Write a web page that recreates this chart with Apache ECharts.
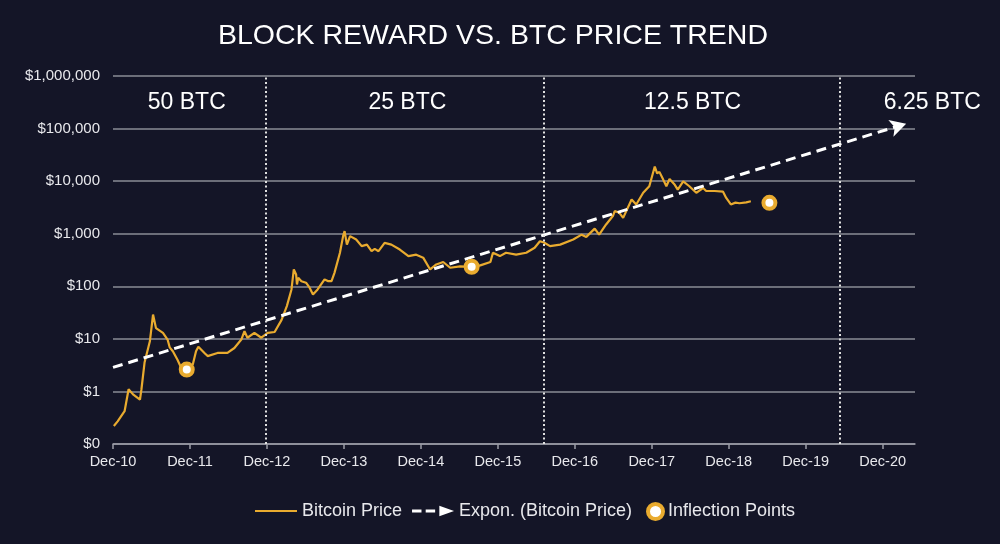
<!DOCTYPE html>
<html>
<head>
<meta charset="utf-8">
<script src="https://cdn.jsdelivr.net/npm/echarts@6/dist/echarts.min.js"></script>
<style>html,body{margin:0;padding:0;background:#141527;}#c{width:1000px;height:544px;}</style>
</head>
<body>
<div id="c"></div>
<script>
// ---- data ----
const priceDates = ['2010-12-05','2010-12-23','2011-01-25','2011-02-13','2011-03-06','2011-04-08','2011-04-15','2011-04-30','2011-05-25','2011-06-09','2011-06-23','2011-07-26','2011-08-17','2011-08-27','2011-09-11','2011-10-03','2011-10-21','2011-11-16','2011-12-15','2011-12-30','2012-01-10','2012-02-08','2012-02-23','2012-04-10','2012-05-27','2012-06-29','2012-08-01','2012-08-16','2012-08-30','2012-10-02','2012-11-04','2012-12-04','2013-01-06','2013-01-13','2013-02-08','2013-03-05','2013-03-27','2013-04-07','2013-04-18','2013-04-22','2013-04-28','2013-05-13','2013-06-04','2013-06-21','2013-07-07','2013-07-29','2013-08-31','2013-09-18','2013-10-03','2013-10-17','2013-11-12','2013-11-27','2013-12-04','2013-12-15','2013-12-30','2014-01-28','2014-02-23','2014-03-20','2014-04-11','2014-04-26','2014-05-14','2014-06-12','2014-07-14','2014-08-23','2014-10-03','2014-11-09','2014-12-12','2015-01-14','2015-02-12','2015-03-17','2015-04-19','2015-06-05','2015-07-31','2015-09-09','2015-10-27','2015-11-08','2015-12-11','2016-01-09','2016-02-26','2016-04-14','2016-05-24','2016-06-18','2016-07-07','2016-08-05','2016-09-22','2016-11-23','2017-01-02','2017-01-24','2017-03-05','2017-03-26','2017-04-28','2017-05-31','2017-06-08','2017-06-30','2017-07-18','2017-08-27','2017-09-18','2017-10-21','2017-11-19','2017-12-15','2017-12-26','2018-01-06','2018-01-24','2018-02-08','2018-02-23','2018-03-20','2018-04-03','2018-04-29','2018-05-28','2018-06-30','2018-08-01','2018-08-16','2018-09-25','2018-11-04','2018-11-19','2018-12-11','2019-01-02','2019-01-21','2019-02-22','2019-03-16'];
const priceValues = [0.22,0.27,0.42,1.1,0.88,0.7,1.1,3.6,9,29,16,13,9.7,6.9,5.8,4,2.8,2.4,3.3,5.8,7.1,5.4,4.7,5.4,5.4,6.7,9.7,14,10.5,13,10.5,13,13.5,14,23,42,87,209,167,108,145,125,117,94,70,87,135,125,125,180,435,900,1120,620,900,775,580,620,465,515,465,670,620,500,375,400,350,209,260,290,225,240,235,250,290,435,375,435,400,435,540,720,680,580,620,775,960,870,1250,960,1500,2200,2700,2500,2000,4470,3600,6000,8000,19000,14000,15000,10700,8000,11000,8500,6900,9900,8000,6000,7400,6500,6500,6300,4800,3600,3900,3800,3950,4150];
const trendDates = ['2010-12-01','2021-03-22'];
const trendValues = [2.86, 124000];
const inflectionDates = ['2011-11-16','2015-07-30','2019-06-12'];
const inflectionValues = [2.6, 235, 3870];
const halvingDates = ['2012-11-28','2016-07-09','2020-05-11'];
const rewardLabels = ['50 BTC','25 BTC','12.5 BTC','6.25 BTC'];
const xTickLabels = ['Dec-10','Dec-11','Dec-12','Dec-13','Dec-14','Dec-15','Dec-16','Dec-17','Dec-18','Dec-19','Dec-20'];
const yTicks = [0.1,1,10,100,1000,10000,100000,1000000];

// ---- helpers ----
function yr(s){const p=s.split('-').map(Number);return (Date.UTC(p[0],p[1]-1,p[2])-Date.UTC(2010,11,1))/(365.25*864e5);}
const gold = '#e9ab2f';
const txt = '#e8e8ec';
const FF = 'Liberation Sans, Arial, sans-serif';
// label anchor dates (layout) and pixel offsets
const labelPosDates = ['2011-11-16','2014-09-28','2018-06-12','2021-04-20'];
const labelOffsets = [[0,0],[0,0],[0,0],[20,0]];

const priceData = priceDates.map((d,i)=>[yr(d),priceValues[i]]);
const trendData = trendDates.map((d,i)=>i===trendDates.length-1
  ? {value:[yr(d),trendValues[i]],symbol:'arrow',symbolSize:[13,16],symbolRotate:-73}
  : {value:[yr(d),trendValues[i]],symbol:'none'});
const inflData = inflectionDates.map((d,i)=>[yr(d),inflectionValues[i]]);

const chart = echarts.init(document.getElementById('c'));
chart.setOption({
  backgroundColor:'#141527',
  animation:false,
  title:{text:'BLOCK REWARD VS. BTC PRICE TREND',left:488,textAlign:'center',top:17,
    textStyle:{color:'#ffffff',fontSize:28.5,fontWeight:'normal',fontFamily:FF}},
  grid:{left:113,right:85,top:76,bottom:100},
  legend:[{
    data:[{name:'Bitcoin Price',itemStyle:{opacity:0}},
          {name:'Expon. (Bitcoin Price)',icon:'path://M0,5h9v3h-9z M13,5h9v3h-9z M26,1.5L40,6.5L26,11.5z'}],
    left:254,top:502,padding:0,itemWidth:42,itemHeight:14,itemGap:10,
    textStyle:{color:txt,fontSize:18,fontFamily:FF}
  },{
    data:[{name:'Inflection Points',itemStyle:{color:'#ffffff',borderColor:gold,borderWidth:4}}],
    left:646,top:502,padding:0,itemWidth:15,itemHeight:15,
    textStyle:{color:txt,fontSize:18,fontFamily:FF}
  }],
  xAxis:{type:'value',min:0,max:10.42,
    axisLine:{show:true,lineStyle:{color:'#9a9ca6',width:1.5}},
    axisTick:{show:true,length:5,lineStyle:{color:'#9a9ca6',width:1.5},customValues:[0,1,2,3,4,5,6,7,8,9,10]},
    axisLabel:{color:txt,fontSize:14.5,margin:10,fontFamily:FF,
      customValues:[0,1,2,3,4,5,6,7,8,9,10],
      formatter:v=>{const i=Math.round(v);return Math.abs(v-i)<1e-6?(xTickLabels[i]||''):'';}},
    splitLine:{show:false}},
  yAxis:{type:'log',logBase:10,min:yTicks[0],max:yTicks[yTicks.length-1],
    axisLine:{show:false},axisTick:{show:false},
    axisLabel:{color:txt,fontSize:15,margin:13,fontFamily:FF,
      formatter:v=>v<1?'$0':'$'+Math.round(v).toLocaleString('en-US')},
    splitLine:{show:true,lineStyle:{color:'#8a8c96',width:1.5}}},
  series:[
    {name:'Bitcoin Price',type:'line',data:priceData,showSymbol:false,symbol:'none',
      lineStyle:{color:gold,width:2.2},itemStyle:{color:gold},z:3,
      markLine:{silent:true,symbol:'none',label:{show:false},
        lineStyle:{color:'#e0e0e0',width:2,type:[2,2.5]},
        data:halvingDates.map(d=>({xAxis:yr(d)}))},
      markPoint:{silent:true,symbol:'circle',symbolSize:0,
        label:{show:true,position:'inside',color:'#ffffff',fontSize:23,fontFamily:FF,formatter:p=>p.name},
        data:rewardLabels.map((n,i)=>({name:n,coord:[yr(labelPosDates[i]),310000],label:{offset:labelOffsets[i]}}))}
    },
    {name:'Expon. (Bitcoin Price)',type:'line',data:trendData,
      lineStyle:{color:'#ffffff',width:3,type:[10,6]},itemStyle:{color:'#ffffff'},z:4},
    {name:'Inflection Points',type:'scatter',data:inflData,symbol:'circle',symbolSize:12,
      itemStyle:{color:'#ffffff',borderColor:gold,borderWidth:4,opacity:1},z:5}
  ]
});
</script>
</body>
</html>
